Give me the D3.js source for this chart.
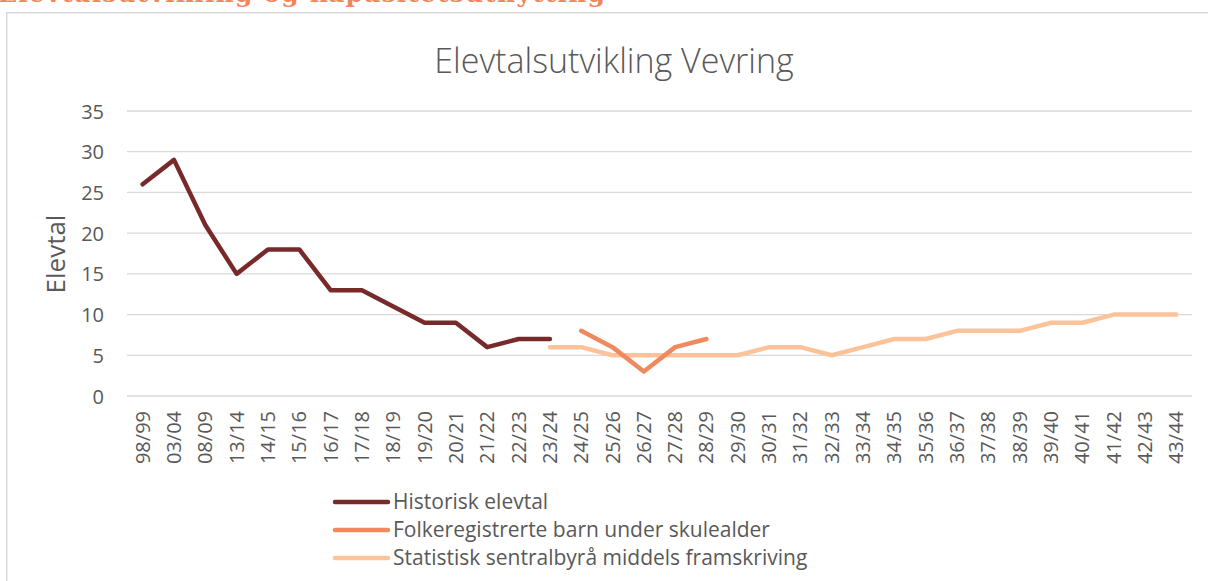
<!DOCTYPE html>
<html><head><meta charset="utf-8">
<script src="https://cdn.jsdelivr.net/npm/d3@7"></script>
<style>body{margin:0;background:#fff;overflow:hidden}svg{display:block}</style>
</head><body><svg id="c" width="1208" height="581"></svg>
<script>
const categories = ["98/99","03/04","08/09","13/14","14/15","15/16","16/17","17/18","18/19","19/20","20/21","21/22","22/23","23/24","24/25","25/26","26/27","27/28","28/29","29/30","30/31","31/32","32/33","33/34","34/35","35/36","36/37","37/38","38/39","39/40","40/41","41/42","42/43","43/44"];
const historiskCats = ["98/99","03/04","08/09","13/14","14/15","15/16","16/17","17/18","18/19","19/20","20/21","21/22","22/23","23/24"];
const historiskVals = [26,29,21,15,18,18,13,13,11,9,9,6,7,7];
const folkeCats = ["24/25","25/26","26/27","27/28","28/29"];
const folkeVals = [8,6,3,6,7];
const ssbCats = ["23/24","24/25","25/26","26/27","27/28","28/29","29/30","30/31","31/32","32/33","33/34","34/35","35/36","36/37","37/38","38/39","39/40","40/41","41/42","42/43","43/44"];
const ssbVals = [6,6,5,5,5,5,5,6,6,5,6,7,7,8,8,8,9,9,10,10,10];
const yTicks = [0,5,10,15,20,25,30,35];
const seriesNames = ["Historisk elevtal","Folkeregistrerte barn under skulealder","Statistisk sentralbyrå middels framskriving"];
const seriesColors = ["#782A2B","#EF8A5E","#FCC39A"];

const svg = d3.select("#c");
const font = "'Open Sans', 'Liberation Sans', sans-serif";
const txt = "#595959";

// cut-off heading above the chart (cropped in the reference too)
svg.append("text").attr("x",-2).attr("y",2)
  .attr("font-family","'DejaVu Serif','Liberation Serif',serif").attr("font-weight","bold")
  .attr("font-size",25).attr("fill","#F0865A").attr("textLength",607)
  .text("Elevtalsutvikling og kapasitetsutnytting");

// chart frame
svg.append("rect").attr("x",6.75).attr("y",12.75).attr("width",1205).attr("height",600)
  .attr("fill","#fff").attr("stroke","#D9D9D9").attr("stroke-width",1.5);

const x = d3.scaleBand().domain(categories).range([127,1192]);
const y = d3.scaleLinear().domain([0,35]).range([396,111]);

// gridlines
svg.append("g").selectAll("line").data(yTicks).join("line")
  .attr("x1",127).attr("x2",1192).attr("y1",d=>y(d)).attr("y2",d=>y(d))
  .attr("stroke","#D9D9D9").attr("stroke-width",1.3);

// y axis
const ya = svg.append("g").attr("transform","translate(104,0)")
  .call(d3.axisLeft(y).tickValues(yTicks).tickSize(0).tickPadding(0));
ya.select(".domain").remove();
ya.selectAll("text").attr("font-family",font).attr("font-size",20).attr("fill",txt).attr("dy","0.35em");

// x axis
const xa = svg.append("g").attr("transform","translate(0,411)")
  .call(d3.axisBottom(x).tickSize(0).tickPadding(0));
xa.select(".domain").remove();
xa.selectAll("text").attr("font-family",font).attr("font-size",20).attr("fill",txt)
  .attr("text-anchor","end").attr("dy","0.35em").attr("dx",0).attr("y",0)
  .attr("transform","rotate(-90)");

// titles
svg.append("text").attr("x",614).attr("y",73).attr("text-anchor","middle")
  .attr("font-family",font).attr("font-weight",300).attr("font-size",34).attr("fill",txt)
  .text("Elevtalsutvikling Vevring");
svg.append("text").attr("transform","translate(65,254) rotate(-90)").attr("text-anchor","middle")
  .attr("font-family",font).attr("font-size",26).attr("fill",txt).text("Elevtal");

// lines
const cx = c => x(c) + x.bandwidth()/2;
const line = d3.line().x(d=>cx(d[0])).y(d=>y(d[1]));
const series = [
  d3.zip(ssbCats, ssbVals),
  d3.zip(folkeCats, folkeVals),
  d3.zip(historiskCats, historiskVals)
];
const order = [2,1,0];
series.forEach((s,i)=>{
  svg.append("path").attr("d",line(s)).attr("fill","none")
    .attr("stroke",seriesColors[order[i]]).attr("stroke-width",4.5)
    .attr("stroke-linecap","round").attr("stroke-linejoin","round");
});

// legend
const lg = svg.append("g");
seriesNames.forEach((n,i)=>{
  const yy = 502 + i*28;
  lg.append("line").attr("x1",335).attr("x2",388).attr("y1",yy).attr("y2",yy)
    .attr("stroke",seriesColors[i]).attr("stroke-width",4.5).attr("stroke-linecap","round");
  lg.append("text").attr("x",393).attr("y",yy).attr("dy","0.35em")
    .attr("font-family",font).attr("font-size",21).attr("fill",txt).text(n);
});
</script></body></html>
